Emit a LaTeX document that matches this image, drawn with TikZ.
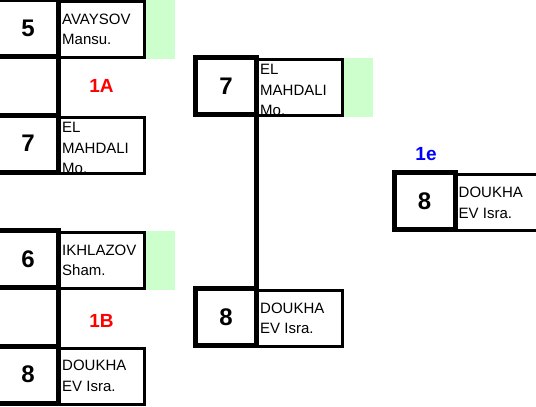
\documentclass[tikz,border=0pt]{standalone}
\usepackage{fontspec}
\setmainfont{Liberation Sans}
\usetikzlibrary{positioning}
\definecolor{seedgreen}{HTML}{CCFFCC}
\tikzset{
	numbox/.style={draw, line width=5pt, outer sep=0pt, inner sep=0pt, minimum width=61pt, minimum height=57pt, font=\fontsize{24}{24}\selectfont\bfseries},
	namebox/.style={draw, line width=3pt, inner sep=0pt, minimum width=85pt, minimum height=56pt},
	nametext/.style={anchor=west, align=left, inner sep=0pt, font=\fontsize{15}{20.5}\selectfont},
	greenbar/.style={fill=seedgreen, inner sep=0pt, minimum width=29pt, minimum height=59pt},
	pool/.style={font=\fontsize{19}{19}\selectfont\bfseries}
}
\begin{document}
\begin{tikzpicture}[x=1pt, y=-1pt]
		\clip (0,0) rectangle (536,407);

		\foreach \id/\x/\y/\num/\who/\dy in {L5/28/28/5/{AVAYSOV\\Mansu.}/0, L7/28/143.5/7/{EL\\MAHDALI\\Mo.}/-3,
			L6/28/259/6/{IKHLAZOV\\Sham.}/0, L8/28/374.5/8/{DOUKHA\\EV Isra.}/0,
			M7/226/85.75/7/{EL\\MAHDALI\\Mo.}/-3, M8/226/316.75/8/{DOUKHA\\EV Isra.}/0,
			E8/424.5/201.25/8/{DOUKHA\\EV Isra.}/0}{
			\node[numbox] (\id) at (\x,\y) {\num};
			\node[namebox, right=-0.5pt of \id, yshift=-1.5pt] (\id-name) {};
			\begin{scope}
				\clip ([shift={(3pt,-3pt)}]\id-name.north west) rectangle ([shift={(-3pt,3pt)}]\id-name.south east);
				\node[nametext] (\id-text) at ([shift={(4pt,\dy pt)}]\id-name.west) {\who};
			\end{scope}
		}
		\foreach \id in {L5,L6,M7}{
			\node[greenbar, right=0pt of \id-name] (\id-seed) {};
		}

		\draw[line width=5pt] (L5.south east) -- (L7.north east);
		\draw[line width=5pt] (L6.south east) -- (L8.north east);
		\draw[line width=5pt] (M7.south east) -- (M8.north east);

		\node[pool, text=red] (poolA) at (101.5,86) {1A};
		\node[pool, text=red] (poolB) at (101.5,320.5) {1B};
		\node[pool, text=blue] (final) at (426,154.5) {1e};
	\end{tikzpicture}
\end{document}
